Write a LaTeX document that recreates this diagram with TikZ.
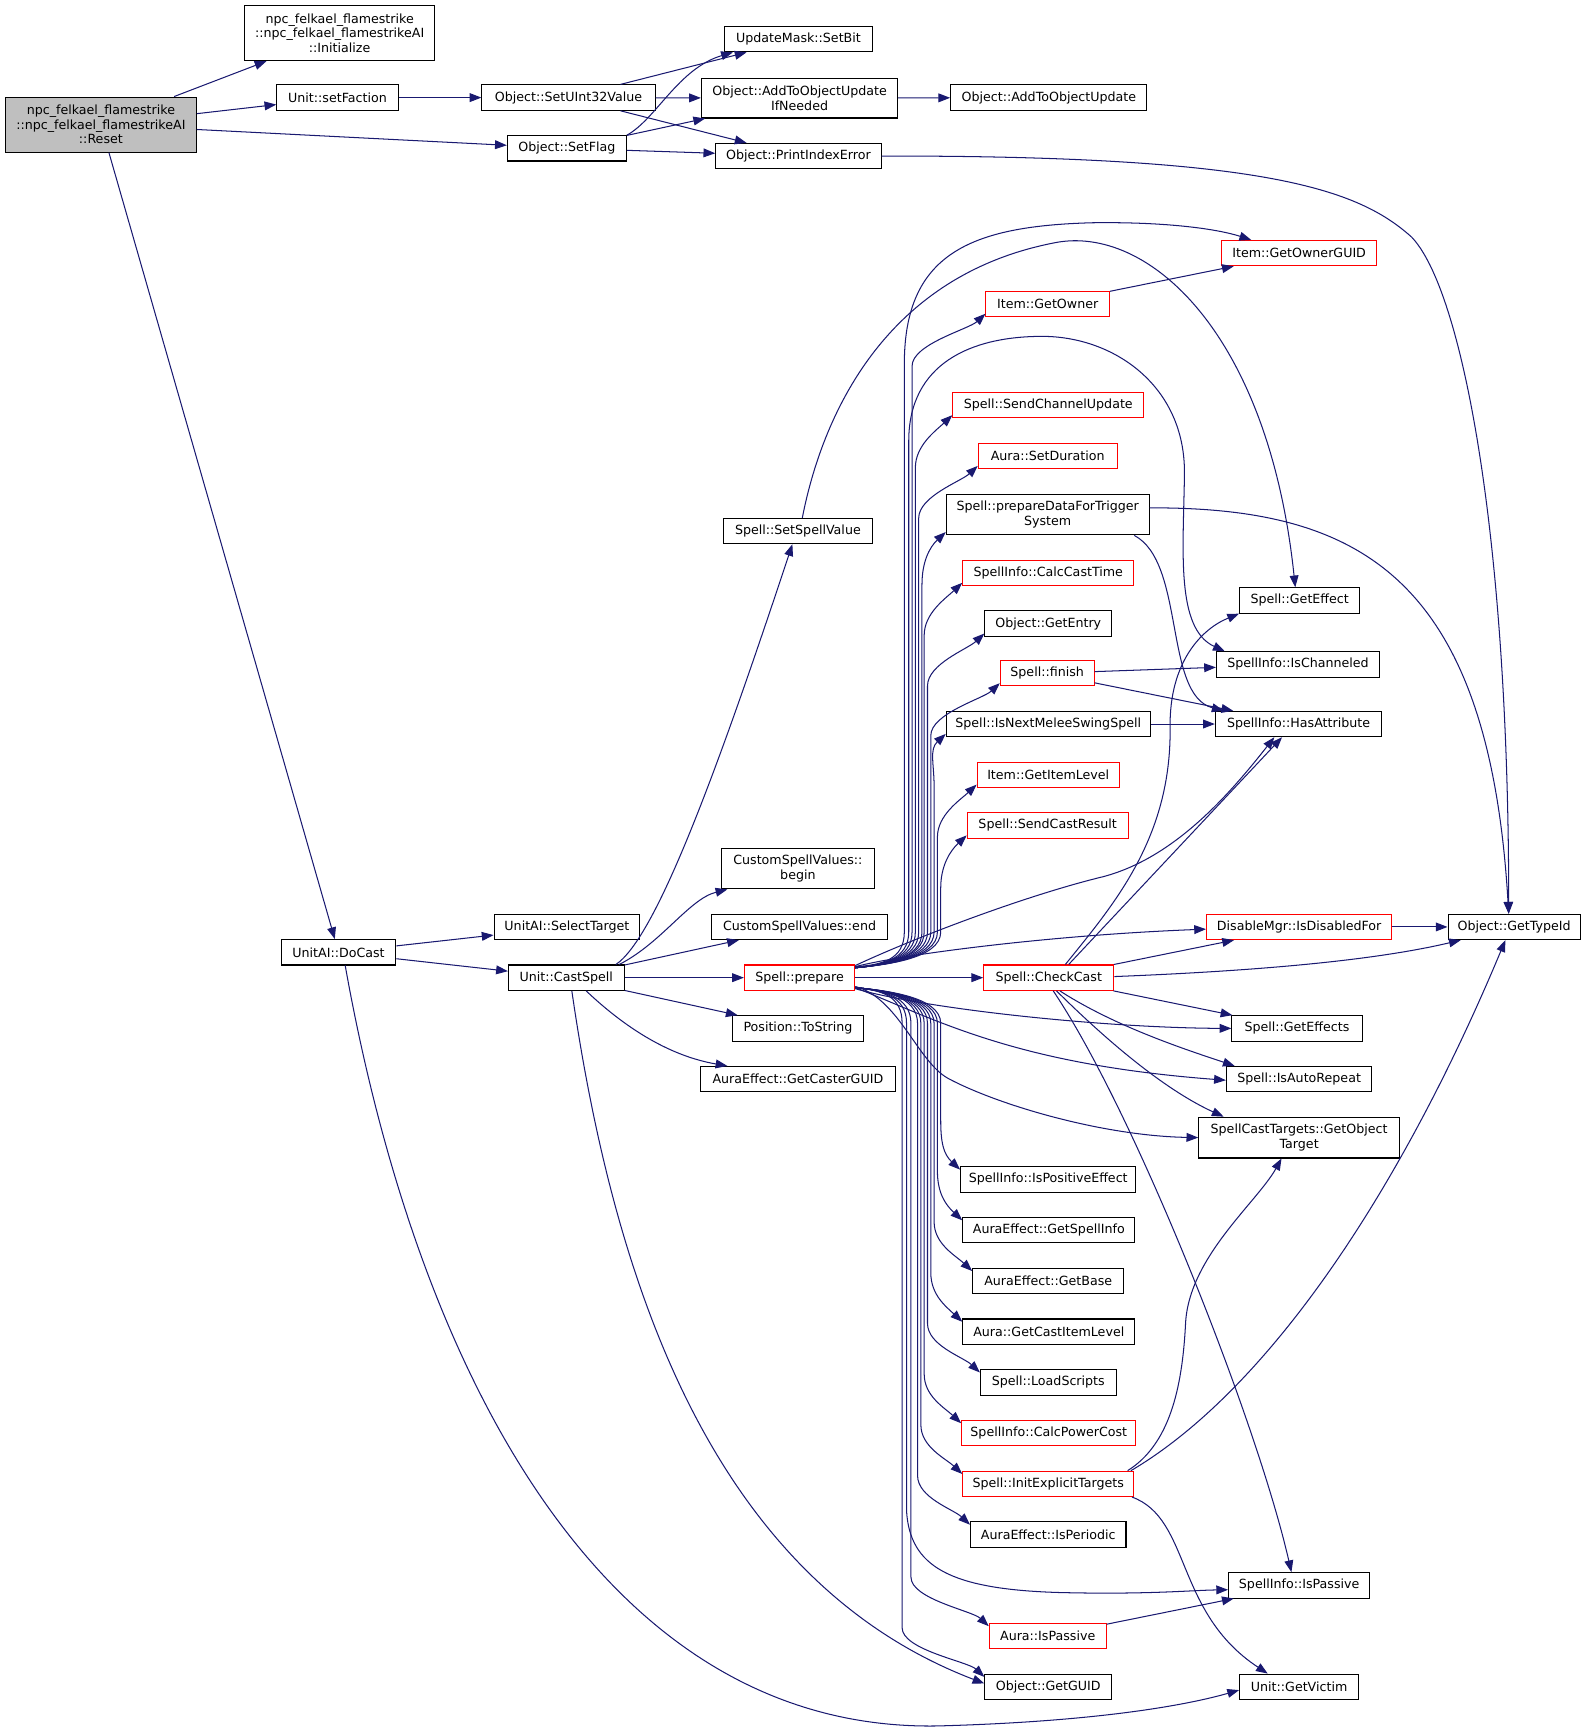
\documentclass[tikz,border=0pt]{standalone}
\usepackage{fontspec}
\setmainfont{DejaVu Sans}
\usetikzlibrary{arrows.meta,calc}
\definecolor{edgeblue}{RGB}{25,25,112}
\definecolor{boxgray}{RGB}{191,191,191}
\definecolor{boxred}{RGB}{255,0,0}
\tikzset{
  box/.style={draw=black,line width=0.7pt,fill=white,inner sep=0pt,align=center,
    font=\fontsize{8.6}{9.8}\selectfont},
  redbox/.style={draw=boxred},
  graybox/.style={fill=boxgray},
  e/.style={draw=edgeblue,line width=0.7pt,-{Triangle[length=8pt,width=6pt]}},
}
\newcommand\mkbox[7][]{%
  \pgfmathsetmacro\bxw{(#5-#3)*0.75}%
  \pgfmathsetmacro\bxh{(#6-#4)*0.75}%
  \node[box,#1,minimum width=\bxw pt,minimum height=\bxh pt] (#2) at ({(#3+#5)/2},{(#4+#6)/2}) {#7};}
\newcommand\upedge[3]{%
  \draw[e] ($(prepare.north east)+(0,3)$) .. controls (800,875) and ({#2},870) .. ({#2},845)
    -- ({#2},{#3}) .. controls ({#2},{#3-20}) and ($(#1.south west)+(-15,11)$) .. ($(#1.south west)+(0,-3)$);}
\newcommand\dnedge[3]{%
  \draw[e] ($(prepare.south east)+(0,-3)$) .. controls (800,898) and ({#2},903) .. ({#2},928)
    -- ({#2},{#3}) .. controls ({#2},{#3+20}) and ($(#1.north west)+(-15,-11)$) .. ($(#1.north west)+(0,3)$);}
\begin{document}
\begin{tikzpicture}[x=0.75pt,y=-0.75pt]
\useasboundingbox (0,0) rectangle (1440,1570.5);
% nodes
\mkbox[graybox]{reset}{5}{88}{178}{138}{npc\_felkael\_flamestrike\\::npc\_felkael\_flamestrikeAI\\::Reset}
\mkbox{init}{222}{5}{394}{55}{npc\_felkael\_flamestrike\\::npc\_felkael\_flamestrikeAI\\::Initialize}
\mkbox{setfac}{251}{77}{361}{100}{Unit::setFaction}
\mkbox{setflag}{460}{123}{568}{146}{Object::SetFlag}
\mkbox{docast}{255}{852}{359}{875}{UnitAI::DoCast}
\mkbox{setu32}{437}{77}{594}{100}{Object::SetUInt32Value}
\mkbox{seltgt}{448}{829}{580}{852}{UnitAI::SelectTarget}
\mkbox{castspell}{461}{875}{566}{898}{Unit::CastSpell}
\mkbox{setbit}{657}{24}{791}{47}{UpdateMask::SetBit}
\mkbox{addifn}{636}{71}{814}{107}{Object::AddToObjectUpdate\\IfNeeded}
\mkbox{printidx}{649}{130}{799}{153}{Object::PrintIndexError}
\mkbox{setspellval}{656}{470}{791}{493}{Spell::SetSpellValue}
\mkbox{csvbegin}{654}{769}{793}{806}{CustomSpellValues::\\begin}
\mkbox{csvend}{645}{829}{805}{852}{CustomSpellValues::end}
\mkbox[redbox]{prepare}{675}{875}{775}{898}{Spell::prepare}
\mkbox{tostring}{664}{921}{783}{944}{Position::ToString}
\mkbox{castguid}{635}{967}{812}{990}{AuraEffect::GetCasterGUID}
\mkbox{addobj}{862}{77}{1040}{100}{Object::AddToObjectUpdate}
\mkbox[redbox]{getowner}{894}{264}{1006}{287}{Item::GetOwner}
\mkbox[redbox]{sendchan}{864}{356}{1037}{379}{Spell::SendChannelUpdate}
\mkbox[redbox]{setdur}{887}{402}{1013}{425}{Aura::SetDuration}
\mkbox{pdft}{858}{448}{1042}{485}{Spell::prepareDataForTrigger\\System}
\mkbox[redbox]{calccast}{873}{508}{1028}{531}{SpellInfo::CalcCastTime}
\mkbox{getentry}{893}{554}{1008}{577}{Object::GetEntry}
\mkbox[redbox]{finish}{907}{599}{992}{622}{Spell::finish}
\mkbox{nextmelee}{858}{645}{1043}{668}{Spell::IsNextMeleeSwingSpell}
\mkbox[redbox]{itemlvl}{886}{691}{1015}{714}{Item::GetItemLevel}
\mkbox[redbox]{sendcast}{877}{737}{1023}{760}{Spell::SendCastResult}
\mkbox[redbox]{checkcast}{892}{875}{1010}{898}{Spell::CheckCast}
\mkbox{ispos}{871}{1058}{1030}{1081}{SpellInfo::IsPositiveEffect}
\mkbox{getspellinfo}{873}{1104}{1029}{1127}{AuraEffect::GetSpellInfo}
\mkbox{getbase}{882}{1150}{1019}{1173}{AuraEffect::GetBase}
\mkbox{castitemlvl}{873}{1196}{1029}{1219}{Aura::GetCastItemLevel}
\mkbox{loadscripts}{889}{1242}{1012}{1265}{Spell::LoadScripts}
\mkbox[redbox]{calcpower}{872}{1288}{1030}{1311}{SpellInfo::CalcPowerCost}
\mkbox[redbox]{initexp}{873}{1334}{1028}{1357}{Spell::InitExplicitTargets}
\mkbox{isperiodic}{880}{1380}{1021}{1403}{AuraEffect::IsPeriodic}
\mkbox[redbox]{aurapassive}{897}{1472}{1003}{1495}{Aura::IsPassive}
\mkbox{getguid}{893}{1518}{1008}{1541}{Object::GetGUID}
\mkbox[redbox]{ownerguid}{1108}{218}{1248}{241}{Item::GetOwnerGUID}
\mkbox{geteffect}{1124}{533}{1233}{556}{Spell::GetEffect}
\mkbox{ischan}{1103}{591}{1251}{614}{SpellInfo::IsChanneled}
\mkbox{hasattr}{1102}{645}{1253}{668}{SpellInfo::HasAttribute}
\mkbox[redbox]{disabled}{1094}{829}{1262}{852}{DisableMgr::IsDisabledFor}
\mkbox{geteffects}{1117}{921}{1235}{944}{Spell::GetEffects}
\mkbox{autorep}{1112}{967}{1244}{990}{Spell::IsAutoRepeat}
\mkbox{objtarget}{1087}{1013}{1269}{1050}{SpellCastTargets::GetObject\\Target}
\mkbox{infopassive}{1114}{1426}{1242}{1449}{SpellInfo::IsPassive}
\mkbox{getvictim}{1124}{1518}{1232}{1541}{Unit::GetVictim}
\mkbox{typeid}{1313}{829}{1433}{852}{Object::GetTypeId}
% edges: top part
\draw[e] (reset) -- (init);
\draw[e] (reset) -- (setfac);
\draw[e] (reset) -- (setflag);
\draw[e] (reset) -- (docast);
\draw[e] (setfac) -- (setu32);
\draw[e] (setu32) -- (setbit);
\draw[e] (setu32) -- (addifn);
\draw[e] (setu32) -- (printidx);
\draw[e] (setflag.north east) .. controls (595,108) and (615,62) .. ($(setbit.south west)+(8,0)$);
\draw[e] (setflag) -- (addifn);
\draw[e] (setflag) -- (printidx);
\draw[e] (addifn) -- (addobj);
\draw[e] (printidx.east) .. controls (1150,141) and (1232,172) .. (1280,215)
   .. controls (1325,262) and (1368,480) .. ($(typeid.north)+(-5,0)$);
% DoCast / CastSpell
\draw[e] (docast) -- (seltgt);
\draw[e] (docast) -- (castspell);
\draw[e] ($(docast.south)+(6,0)$) .. controls (380,1250) and (550,1570) .. (850,1565)
   .. controls (1000,1561) and (1080,1545) .. ($(getvictim.west)+(0,3)$);
\draw[e] ($(castspell.north east)+(-8,0)$) .. controls (595,850) and (650,700) .. ($(setspellval.south)+(-5,0)$);
\draw[e] ($(castspell.north east)+(-5,0)$) .. controls (600,855) and (625,815) .. ($(csvbegin.south west)+(6,0)$);
\draw[e] (castspell) -- (csvend);
\draw[e] (castspell) -- (prepare);
\draw[e] (castspell) -- (tostring);
\draw[e] ($(castspell.south)+(18,0)$) .. controls (570,935) and (610,958) .. ($(castguid.north west)+(25,0)$);
\draw[e] ($(castspell.south)+(5,0)$) .. controls (555,1150) and (640,1430) .. ($(getguid.west)+(0,-3)$);
\draw[e] ($(setspellval.north)+(4,0)$) .. controls (745,380) and (800,250) .. (957,220)
   .. controls (1040,204) and (1150,300) .. ($(geteffect.north)+(-4,0)$);
% prepare fan (up)
\draw[e] ($(prepare.north east)+(0,2)$) .. controls (800,875) and (820,870) .. (820,845) -- (820,330)
   .. controls (820,230) and (880,205) .. (990,202) .. controls (1060,201) and (1105,208) .. ($(ownerguid.north west)+(27,0)$);
\draw[e] ($(prepare.north east)+(0,3)$) .. controls (800,875) and (824,870) .. (824,845) -- (824,400)
   .. controls (824,330) and (880,305) .. (945,305) .. controls (1010,305) and (1075,350) .. (1074,430)
   .. controls (1073,500) and (1066,570) .. ($(ischan.north west)+(8,0)$);
\upedge{getowner}{827}{332}
\upedge{sendchan}{830}{424}
\upedge{setdur}{833}{470}
\upedge{pdft}{836}{530}
\upedge{calccast}{838}{576}
\upedge{getentry}{841}{622}
\upedge{finish}{844}{667}
\upedge{nextmelee}{847}{713}
\upedge{itemlvl}{850}{759}
\upedge{sendcast}{853}{805}
\draw[e] ($(prepare.north east)+(0,1)$) .. controls (830,850) and (930,812) .. (1000,795)
   .. controls (1065,778) and (1115,720) .. ($(hasattr.south)+(-22,0)$);
\draw[e] ($(prepare.north east)+(0,2)$) .. controls (815,866) and (950,848) .. ($(disabled.west)+(0,2)$);
\draw[e] (prepare) -- (checkcast);
% prepare fan (down)
\draw[e] ($(prepare.south east)+(0,-2)$) .. controls (840,915) and (1000,932) .. (geteffects.west);
\draw[e] ($(prepare.south east)+(0,-3)$) .. controls (850,925) and (920,965) .. ($(autorep.west)+(0,1)$);
\draw[e] ($(prepare.south east)+(0,-4)$) .. controls (815,905) and (832,963) .. (860,978)
   .. controls (905,1002) and (1000,1030) .. (objtarget.west);
\dnedge{ispos}{853}{1016}
\dnedge{getspellinfo}{850}{1062}
\dnedge{getbase}{847}{1108}
\dnedge{castitemlvl}{844}{1154}
\dnedge{loadscripts}{841}{1200}
\dnedge{calcpower}{838}{1246}
\dnedge{initexp}{835}{1292}
\dnedge{isperiodic}{832}{1338}
\dnedge{aurapassive}{826}{1430}
\dnedge{getguid}{818}{1476}
\draw[e] ($(prepare.south east)+(0,-3)$) .. controls (800,898) and (822,903) .. (822,928) -- (822,1370)
   .. controls (825,1420) and (860,1441) .. (960,1444) .. controls (1040,1446) and (1080,1442) .. ($(infopassive.west)+(0,4)$);
% other edges
\draw[e] (getowner) -- (ownerguid);
\draw[e] (finish) -- (ischan);
\draw[e] (finish) -- (hasattr);
\draw[e] (nextmelee) -- (hasattr);
\draw[e] ($(pdft.south east)+(-14,0)$) .. controls (1075,510) and (1055,630) .. ($(hasattr.north west)+(8,0)$);
\draw[e] ($(pdft.east)+(0,-6)$) .. controls (1230,460) and (1350,520) .. ($(typeid.north)+(-5,0)$);
\draw[e] ($(checkcast.north)+(15,0)$) .. controls (1010,820) and (1062,760) .. (1061,660)
   .. controls (1060,600) and (1090,570) .. (geteffect.south west);
\draw[e] ($(checkcast.north)+(18,0)$) -- ($(hasattr.south)+(-15,0)$);
\draw[e] (checkcast) -- (disabled);
\draw[e] ($(checkcast.east)+(0,-1)$) .. controls (1150,880) and (1250,870) .. ($(typeid.south west)+(12,0)$);
\draw[e] (checkcast) -- (geteffects);
\draw[e] ($(checkcast.south)+(10,0)$) .. controls (1010,930) and (1070,950) .. ($(autorep.north west)+(8,0)$);
\draw[e] ($(checkcast.south)+(7,0)$) .. controls (1010,950) and (1060,990) .. ($(objtarget.north west)+(23,0)$);
\draw[e] ($(checkcast.south)+(4,0)$) .. controls (1030,1010) and (1140,1290) .. ($(infopassive.north)+(-7,0)$);
\draw[e] (disabled) -- (typeid);
\draw[e] ($(initexp.north east)+(-6,0)$) .. controls (1060,1310) and (1072,1260) .. (1075,1200)
   .. controls (1078,1140) and (1140,1090) .. ($(objtarget.south)+(-16,0)$);
\draw[e] ($(initexp.north east)+(-3,0)$) .. controls (1150,1260) and (1270,1080) .. ($(typeid.south)+(-8,0)$);
\draw[e] ($(initexp.south east)+(-2,0)$) .. controls (1080,1377) and (1065,1462) .. ($(getvictim.north west)+(26,0)$);
\draw[e] (aurapassive) -- (infopassive);
\end{tikzpicture}
\end{document}
